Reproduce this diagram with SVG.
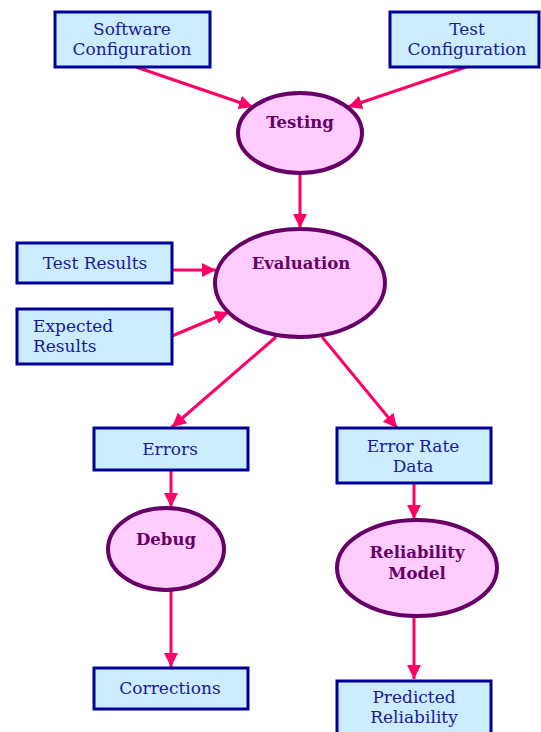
<svg xmlns="http://www.w3.org/2000/svg" width="541" height="732" viewBox="0 0 541 732">
<style>
.box{fill:#CCECFF;stroke:#000099;stroke-width:3}
.ell{fill:#FFCCFF;stroke:#660066;stroke-width:4}
.bt{font-family:"DejaVu Serif","Liberation Serif",serif;font-size:17px;fill:#1a1a99;text-anchor:middle}
.et{font-family:"DejaVu Serif","Liberation Serif",serif;font-size:16.5px;font-weight:bold;fill:#660066;text-anchor:middle}
.c line{stroke:#FF0066;stroke-width:3;marker-end:url(#ah)}
</style>
<defs>
<marker id="ah" markerUnits="userSpaceOnUse" markerWidth="16" markerHeight="14" refX="14" refY="7" orient="auto">
<path d="M0,0 L14,7 L0,14 Z" fill="#FF0066"/>
</marker>
</defs>
<rect width="541" height="732" fill="#fff"/>
<g class="c" id="connectors">
<line x1="136" y1="67" x2="253" y2="107"/>
<line x1="466" y1="67" x2="348" y2="107"/>
<line x1="300" y1="175" x2="300" y2="228"/>
<line x1="172" y1="270" x2="216" y2="270"/>
<line x1="172" y1="336" x2="229" y2="312"/>
<line x1="276" y1="337" x2="172" y2="427"/>
<line x1="322" y1="337" x2="397" y2="428"/>
<line x1="171" y1="470" x2="171" y2="507"/>
<line x1="171" y1="591" x2="171" y2="667"/>
<line x1="414" y1="483" x2="414" y2="519"/>
<line x1="414" y1="617" x2="414" y2="679"/>
</g>
<g id="software-configuration">
<rect class="box" x="55" y="12" width="155" height="55"/>
<text class="bt" x="132" y="35">Software</text>
<text class="bt" x="132" y="55">Configuration</text>
</g>
<g id="test-configuration">
<rect class="box" x="390" y="12" width="149" height="55"/>
<text class="bt" x="467" y="35">Test</text>
<text class="bt" x="467" y="55">Configuration</text>
</g>
<g id="testing">
<ellipse class="ell" cx="300" cy="133" rx="62" ry="40"/>
<text class="et" x="300" y="128">Testing</text>
</g>
<g id="test-results">
<rect class="box" x="17" y="243" width="155" height="40"/>
<text class="bt" x="95" y="269">Test Results</text>
</g>
<g id="expected-results">
<rect class="box" x="17" y="309" width="155" height="55"/>
<text class="bt" x="33" y="332" style="text-anchor:start">Expected</text>
<text class="bt" x="33" y="352" style="text-anchor:start">Results</text>
</g>
<g id="evaluation">
<ellipse class="ell" cx="300" cy="283" rx="85" ry="54"/>
<text class="et" x="301" y="269">Evaluation</text>
</g>
<g id="errors">
<rect class="box" x="94" y="428" width="154" height="42"/>
<text class="bt" x="170" y="455">Errors</text>
</g>
<g id="error-rate-data">
<rect class="box" x="337" y="428" width="154" height="55"/>
<text class="bt" x="413" y="452">Error Rate</text>
<text class="bt" x="413" y="472">Data</text>
</g>
<g id="debug">
<ellipse class="ell" cx="166" cy="549" rx="58" ry="41"/>
<text class="et" x="166" y="545">Debug</text>
</g>
<g id="reliability-model">
<ellipse class="ell" cx="417" cy="568" rx="80" ry="48"/>
<text class="et" x="417" y="558">Reliability</text>
<text class="et" x="417" y="579">Model</text>
</g>
<g id="corrections">
<rect class="box" x="94" y="668" width="154" height="41"/>
<text class="bt" x="170" y="694">Corrections</text>
</g>
<g id="predicted-reliability">
<rect class="box" x="337" y="681" width="154" height="60"/>
<text class="bt" x="414" y="703">Predicted</text>
<text class="bt" x="414" y="723">Reliability</text>
</g>
</svg>
